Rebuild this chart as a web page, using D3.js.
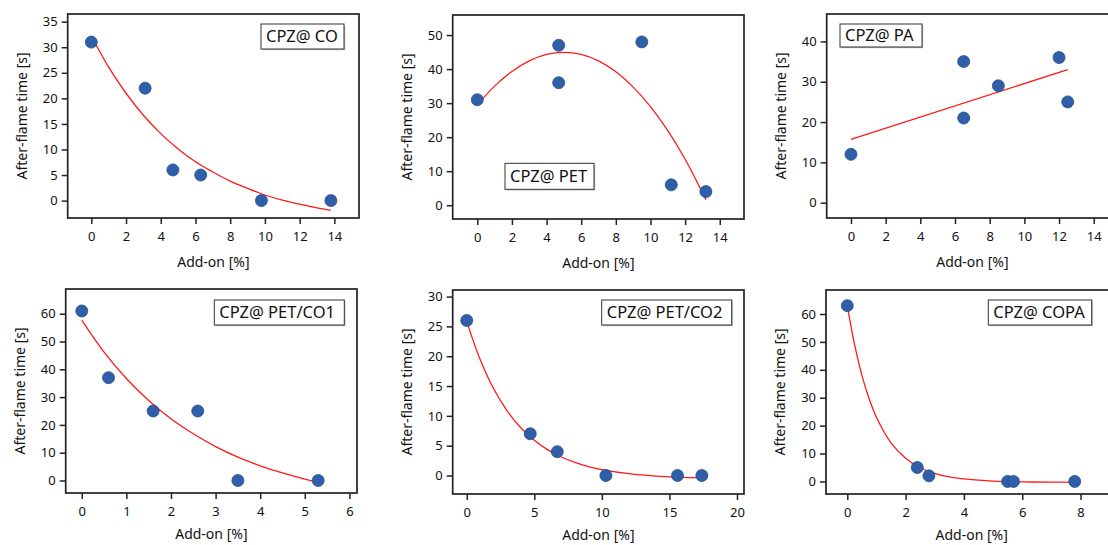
<!DOCTYPE html>
<html lang="en">
<head>
<meta charset="UTF-8">
<title>After-flame time vs add-on</title>
<script src="https://d3js.org/d3.v7.min.js"></script>
<style>
  body { margin: 0; background: #fff; }
  svg text { font-family: "Noto Sans", "DejaVu Sans", sans-serif; fill: #111; }
</style>
</head>
<body>
<div id="chart"></div>
<script>
// --- data ---
// CPZ@ CO
const coAddOn = [0, 3.1, 4.7, 6.3, 9.8, 13.8];
const coTime  = [31, 22, 6, 5, 0, 0];
const coFitX  = [0, 1, 2, 3, 4, 5, 6, 7, 8, 9, 10, 11, 12, 13, 13.8];
const coFitY  = [32.2, 26.1, 21.0, 16.7, 13.1, 10.1, 7.6, 5.6, 3.8, 2.4, 1.1, 0.1, -0.7, -1.4, -1.9];

// CPZ@ PET
const petAddOn = [0, 4.7, 4.7, 9.5, 11.2, 13.2];
const petTime  = [31, 47, 36, 48, 6, 4];
const petFitX  = [0, 1, 2, 3, 4, 5, 6, 7, 8, 9, 10, 11, 12, 13, 13.2];
const petFitY  = [29.5, 35.0, 39.3, 42.4, 44.3, 44.9, 44.3, 42.4, 39.2, 34.7, 29.0, 21.9, 13.5, 3.7, 1.6];

// CPZ@ PA
const paAddOn = [0, 6.5, 6.5, 8.5, 12, 12.5];
const paTime  = [12, 35, 21, 29, 36, 25];
const paFitX  = [0, 12.5];
const paFitY  = [15.7, 33.0];

// CPZ@ PET/CO1
const co1AddOn = [0, 0.6, 1.6, 2.6, 3.5, 5.3];
const co1Time  = [61, 37, 25, 25, 0, 0];
const co1FitX  = [0, 0.5, 1, 1.5, 2, 2.5, 3, 3.5, 4, 4.5, 5, 5.3];
const co1FitY  = [57.7, 46.2, 36.7, 28.8, 22.2, 16.8, 12.2, 8.4, 5.3, 2.7, 0.5, -0.6];

// CPZ@ PET/CO2
const co2AddOn = [0, 4.7, 6.7, 10.3, 15.6, 17.4];
const co2Time  = [26, 7, 4, 0, 0, 0];
const co2FitX  = [0, 1, 2, 3, 4, 5, 6, 7, 8, 9, 10, 12, 14, 16, 17.4];
const co2FitY  = [25.8, 19.4, 14.5, 10.8, 8.0, 5.9, 4.3, 3.1, 2.2, 1.5, 1.0, 0.3, -0.1, -0.3, -0.4];

// CPZ@ COPA
const copaAddOn = [0, 2.4, 2.8, 5.5, 5.7, 7.8];
const copaTime  = [63, 5, 2, 0, 0, 0];
const copaFitX  = [0, 0.25, 0.5, 0.75, 1, 1.5, 2, 2.5, 3, 3.5, 4, 5, 6, 7, 7.8];
const copaFitY  = [63, 49.0, 38.1, 29.6, 23.0, 13.8, 8.3, 4.9, 2.9, 1.6, 0.9, 0.1, -0.15, -0.25, -0.3];

const panelNames = ["CPZ@ CO", "CPZ@ PET", "CPZ@ PA", "CPZ@ PET/CO1", "CPZ@ PET/CO2", "CPZ@ COPA"];
const xTickSets = [[0, 2, 4, 6, 8, 10, 12, 14], [0, 2, 4, 6, 8, 10, 12, 14], [0, 2, 4, 6, 8, 10, 12, 14],
                   [0, 1, 2, 3, 4, 5, 6], [0, 5, 10, 15, 20], [0, 2, 4, 6, 8]];
const yTickSets = [[0, 5, 10, 15, 20, 25, 30, 35], [0, 10, 20, 30, 40, 50], [0, 10, 20, 30, 40],
                   [0, 10, 20, 30, 40, 50, 60], [0, 5, 10, 15, 20, 25, 30], [0, 10, 20, 30, 40, 50, 60]];

const xLabel = "Add-on [%]";
const yLabel = "After-flame time [s]";

// --- layout (pixels) ---
const layout = [
  {left: 67.7,  top: 14,  xDom: [-1.36, 15.42], yDom: [-3.4, 36.5], box: [193.3, 10, 83, 25], xlab: 44},
  {left: 452.7, top: 15,  xDom: [-1.42, 15.4],  yDom: [-4.05, 55.9], box: [52.3, 148.3, 89, 26], xlab: 44},
  {left: 826.7, top: 14,  xDom: [-1.4, 15.4],   yDom: [-3.8, 46.8], box: [13.3, 10, 82, 23], xlab: 44},
  {left: 65.7,  top: 289, xDom: [-0.36, 6.17],  yDom: [-4.5, 68.9], box: [148.6, 11, 130, 25], xlab: 41},
  {left: 452.7, top: 290, xDom: [-1.04, 20.52], yDom: [-3.1, 31.1], box: [149, 10, 130, 25], xlab: 41},
  {left: 826,   top: 290, xDom: [-0.73, 9.26],  yDom: [-4.5, 68.6], box: [162.3, 10, 103.4, 25], xlab: 41}
];
const W = 291.3, H = 204;

const panels = [
  {xs: coAddOn, ys: coTime, fx: coFitX, fy: coFitY},
  {xs: petAddOn, ys: petTime, fx: petFitX, fy: petFitY},
  {xs: paAddOn, ys: paTime, fx: paFitX, fy: paFitY},
  {xs: co1AddOn, ys: co1Time, fx: co1FitX, fy: co1FitY},
  {xs: co2AddOn, ys: co2Time, fx: co2FitX, fy: co2FitY},
  {xs: copaAddOn, ys: copaTime, fx: copaFitX, fy: copaFitY}
];

const svg = d3.select("#chart").append("svg")
  .attr("width", 1108)
  .attr("height", 545);

panels.forEach(function(p, i) {
  const L = layout[i];
  const x = d3.scaleLinear().domain(L.xDom).range([0, W]);
  const y = d3.scaleLinear().domain(L.yDom).range([H, 0]);

  const g = svg.append("g").attr("transform", "translate(" + L.left + "," + L.top + ")");

  // axes (ticks outward, frame drawn separately)
  const xa = g.append("g").attr("transform", "translate(0," + H + ")")
    .call(d3.axisBottom(x).tickValues(xTickSets[i]).tickFormat(d3.format("d")).tickSize(6).tickPadding(8));
  const ya = g.append("g")
    .call(d3.axisLeft(y).tickValues(yTickSets[i]).tickFormat(d3.format("d")).tickSize(6).tickPadding(4));
  [xa, ya].forEach(function(a) {
    a.select(".domain").remove();
    a.selectAll(".tick line").attr("stroke", "#222").attr("stroke-width", 1.5);
    a.selectAll(".tick text").style("font-size", "13px").attr("fill", "#111");
  });

  g.append("rect")
    .attr("width", W).attr("height", H)
    .attr("fill", "none").attr("stroke", "#222").attr("stroke-width", 1.7);

  // fit curve
  const line = d3.line()
    .x(function(d) { return x(d[0]); })
    .y(function(d) { return y(d[1]); })
    .curve(d3.curveCatmullRom.alpha(0.5));
  g.append("path")
    .datum(p.fx.map(function(v, k) { return [v, p.fy[k]]; }))
    .attr("d", line)
    .attr("fill", "none")
    .attr("stroke", "#ff1a1a")
    .attr("stroke-width", 1.3);

  // points
  g.selectAll("circle")
    .data(p.xs.map(function(v, k) { return [v, p.ys[k]]; }))
    .enter().append("circle")
    .attr("cx", function(d) { return x(d[0]); })
    .attr("cy", function(d) { return y(d[1]); })
    .attr("r", 6)
    .attr("fill", "#2e5fa8")
    .attr("stroke", "#244d8c")
    .attr("stroke-width", 0.8);

  // legend box
  const b = L.box;
  g.append("rect")
    .attr("x", b[0] + 1.2).attr("y", b[1] + 1.2)
    .attr("width", b[2]).attr("height", b[3])
    .attr("fill", "#bbb");
  g.append("rect")
    .attr("x", b[0]).attr("y", b[1])
    .attr("width", b[2]).attr("height", b[3])
    .attr("fill", "#fff").attr("stroke", "#333").attr("stroke-width", 1);
  g.append("text")
    .attr("x", b[0] + 5).attr("y", b[1] + b[3] / 2)
    .attr("dy", "0.36em")
    .style("font-size", "16.5px")
    .text(panelNames[i]);

  // axis titles
  g.append("text")
    .attr("x", W / 2).attr("y", H + L.xlab)
    .attr("dy", "0.35em")
    .attr("text-anchor", "middle")
    .style("font-size", "14px")
    .text(xLabel);
  g.append("text")
    .attr("transform", "translate(-46," + (H / 2) + ") rotate(-90)")
    .attr("dy", "0.35em")
    .attr("text-anchor", "middle")
    .style("font-size", "14px")
    .text(yLabel);
});
</script>
</body>
</html>
